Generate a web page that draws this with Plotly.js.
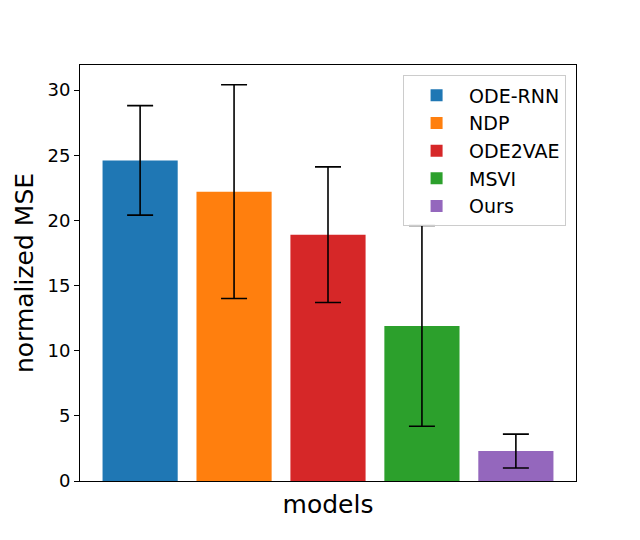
<!DOCTYPE html>
<html>
<head>
<meta charset="utf-8">
<script src="https://cdn.plot.ly/plotly-3.0.1.min.js"></script>
<style>html,body{margin:0;padding:0;background:#fff;}#chart{width:640px;height:540px;}</style>
</head>
<body>
<div id="chart"></div>
<script>
const models = ["ODE-RNN", "NDP", "ODE2VAE", "MSVI", "Ours"];
const meanMSE = [24.6, 22.2, 18.9, 11.9, 2.3];
const stdMSE = [4.2, 8.2, 5.2, 7.7, 1.3];
const colors = ["#1f77b4", "#ff7f0e", "#d62728", "#2ca02c", "#9467bd"];

const traces = models.map((m, i) => ({
  type: "bar",
  name: m,
  legendgroup: m,
  x: [i],
  y: [meanMSE[i]],
  width: 0.8,
  marker: {color: colors[i], line: {width: 0}},
  error_y: {type: "data", array: [stdMSE[i]], visible: true, color: "#000", thickness: 1.6, width: 13},
  hoverinfo: "y+name"
}));

const layout = {
  width: 640, height: 540,
  margin: {l: 80, r: 64, t: 65, b: 59},
  paper_bgcolor: "#fff", plot_bgcolor: "#fff",
  barmode: "overlay",
  font: {family: "DejaVu Sans, sans-serif", color: "#000", size: 18},
  xaxis: {
    range: [-0.64, 4.64], showticklabels: false, ticks: "", showgrid: false, zeroline: false,
    showline: true, linecolor: "#000", linewidth: 1, mirror: true,
    title: {text: "models", font: {size: 25}, standoff: 14}
  },
  yaxis: {
    range: [0, 31.92], tickvals: [0, 5, 10, 15, 20, 25, 30], ticks: "outside", ticklen: 5, tickcolor: "#000",
    showgrid: false, zeroline: false, showline: true, linecolor: "#000", linewidth: 1, mirror: true,
    tickfont: {size: 18},
    title: {text: "normalized MSE", font: {size: 25}, standoff: 6}
  },
  legend: {
    x: 0.98, y: 0.975, xanchor: "right", yanchor: "top",
    bgcolor: "rgba(255,255,255,0.8)", bordercolor: "#ccc", borderwidth: 1,
    font: {size: 19}, itemwidth: 55, tracegroupgap: 0
  },
  showlegend: true
};

Plotly.newPlot("chart", traces, layout, {displayModeBar: false, staticPlot: true});
</script>
</body>
</html>
